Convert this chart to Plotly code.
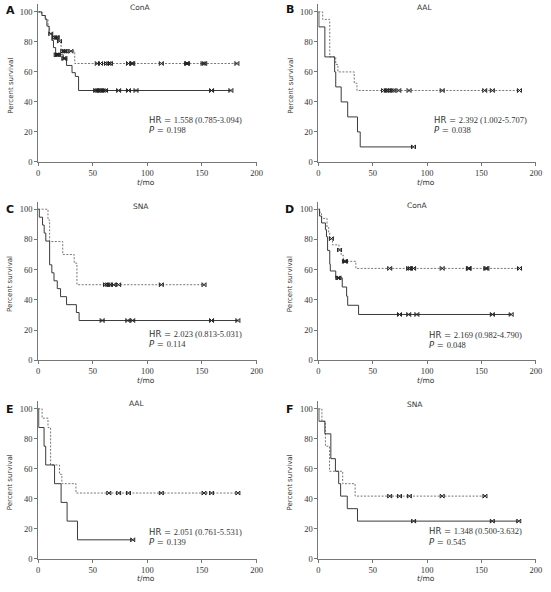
import plotly.graph_objects as go
import numpy as np

W, H = 551, 592

# ---------------- data ----------------
# Panel A: ConA
A_solid_t = [0, 3.5, 6.5, 8, 10, 12.5, 14, 16, 23, 26, 31, 34, 37]
A_solid_s = [100, 97.6, 95.2, 90.5, 85.7, 81, 76.2, 71.4, 69, 64.3, 59.5, 57, 47.6]
A_solid_c = [16.5, 17.5, 18.5, 23.5, 24.5, 52.6, 54.1, 55.6, 57.1, 59.5, 61.7, 73.7, 82.7, 89.6, 158.8, 176.5]
A_dash_t = [0, 3, 6.5, 9, 10.5, 13, 18, 21, 33.5]
A_dash_s = [100, 97.6, 95.1, 90.2, 85.4, 82.9, 80.5, 73.8, 65.6]
A_dash_c = [11.5, 15, 16.5, 17.5, 19.5, 22.5, 24, 25.5, 30, 54.1, 57.1, 62.6, 64.7, 66.2, 82.7, 85.7, 86.6,
            112.8, 135.9, 136.8, 151, 152.5, 182]

# Panel B: AAL
B_solid_t = [0, 0.5, 6, 15, 16, 21, 27, 36, 38.5]
B_solid_s = [100, 90, 70, 60, 50, 40, 30, 20, 10]
B_solid_c = [87.5]
B_dash_t = [0, 4, 10.5, 16, 18, 33, 35.5]
B_dash_s = [100, 95, 70, 65, 60, 52.5, 47.6]
B_dash_c = [60, 62.5, 64.7, 66.8, 68.9, 74, 83.4, 113.9, 153, 160, 184.9]

# Panel C: SNA
C_solid_t = [0, 1, 4, 5.5, 7, 10.5, 12.5, 14.5, 17.5, 20.5, 26, 35, 37.5]
C_solid_s = [100, 94.7, 89.5, 84.2, 78.9, 63.2, 57.9, 52.6, 47.4, 42.1, 36.8, 31.6, 26.3]
C_solid_c = [58.6, 82.1, 86.6, 158.8, 182.9]
C_dash_t = [0, 9, 10.5, 22.5, 33, 35.5]
C_dash_s = [100, 92.9, 78.6, 70, 64.3, 50]
C_dash_c = [61.7, 63.8, 66.2, 69.2, 73.7, 112.8, 151.9]

# Panel D: ConA
D_solid_t = [0, 1, 3, 6.5, 7.5, 8.5, 10.5, 11, 16, 22, 26, 27, 37]
D_solid_s = [100, 95.5, 90.9, 86.4, 81.8, 72.7, 63.6, 59.1, 54.5, 48.5, 42.4, 36.4, 30.3]
D_solid_c = [18, 19, 74.6, 83.1, 90.6, 160, 177.3]
D_dash_t = [0, 1.5, 3, 8, 9.5, 10.5, 13, 19, 21, 23, 34.5]
D_dash_s = [100, 97, 93.9, 87.9, 84.8, 80.5, 76.4, 73, 69.5, 65.5, 60.8]
D_dash_c = [12, 19.5, 24, 25, 65.6, 83, 84.6, 87.6, 113.9, 138, 138.7, 154, 155, 185]

# Panel E: AAL
E_solid_t = [0, 0.5, 5.4, 6.9, 15, 21, 26.5, 36]
E_solid_s = [100, 87.5, 75, 62.5, 50, 37.5, 25, 12.5]
E_solid_c = [86.6]
E_dash_t = [0, 3.6, 9, 11.4, 19.5, 21.7, 34.6]
E_dash_s = [100, 93.75, 87.5, 62.5, 56.25, 50, 43.75]
E_dash_c = [64.7, 73.7, 82.7, 112.8, 151.9, 158.8, 182.9]

# Panel F: SNA
F_solid_t = [0, 0.5, 6, 11.5, 15.7, 18.7, 20.5, 26.6, 36]
F_solid_s = [100, 91.7, 83.3, 66.7, 58.3, 50, 41.7, 33.3, 25]
F_solid_c = [87.6, 160, 184.3]
F_dash_t = [0, 3.3, 6.5, 10.3, 22.4, 33.8]
F_dash_s = [100, 91.7, 75, 58.3, 50, 41.7]
F_dash_c = [65.6, 74.6, 83.7, 113.9, 153.2]

panel_letters = ["A", "B", "C", "D", "E", "F"]
panel_titles = ["ConA", "AAL", "SNA", "ConA", "AAL", "SNA"]
hr_texts = ["1.558 (0.785-3.094)", "2.392 (1.002-5.707)", "2.023 (0.813-5.031)",
            "2.169 (0.982-4.790)", "2.051 (0.761-5.531)", "1.348 (0.500-3.632)"]
p_texts = ["0.198", "0.038", "0.114", "0.048", "0.139", "0.545"]

x_ticks = [0, 50, 100, 150, 200]
y_ticks = [0, 20, 40, 60, 80, 100]

panels = [
    (A_solid_t, A_solid_s, A_solid_c, A_dash_t, A_dash_s, A_dash_c),
    (B_solid_t, B_solid_s, B_solid_c, B_dash_t, B_dash_s, B_dash_c),
    (C_solid_t, C_solid_s, C_solid_c, C_dash_t, C_dash_s, C_dash_c),
    (D_solid_t, D_solid_s, D_solid_c, D_dash_t, D_dash_s, D_dash_c),
    (E_solid_t, E_solid_s, E_solid_c, E_dash_t, E_dash_s, E_dash_c),
    (F_solid_t, F_solid_s, F_solid_c, F_dash_t, F_dash_s, F_dash_c),
]

# ---------------- geometry (screen pixels) ----------------
col_x = [(36.7, 258.3), (321.0, 541.7)]
row_y = [(163.3, 151.3), (363.3, 152.3), (563.3, 151.0)]  # (y of 0, px per 100%)
letter_pos = [(8.2, 10.3), (292, 9.3), (7.8, 211.3), (292, 210.8), (7.8, 413), (292, 413.3)]
title_pos = [(141, 7.5), (429, 8), (141, 208), (421.7, 207.7), (136.7, 407), (419, 408)]
hr_pos = [(146.7, 120.7), (436, 121), (146.7, 336.7), (431.7, 337.7), (146.7, 536.7), (431.7, 536)]


def px(x, y):
    return x / W, 1 - y / H


def step_at(ts, ss, t):
    i = np.searchsorted(np.array(ts), t, side="right") - 1
    return ss[max(i, 0)]


fig = go.Figure()
layout_axes = {}
annotations = []


def ann(text, x, y, size, family="DejaVu Sans", xanchor="center", yanchor="middle", angle=0, color="#333333"):
    ax, ay = px(x, y)
    annotations.append(dict(text=text, x=ax, y=ay, xref="paper", yref="paper", showarrow=False,
                            xanchor=xanchor, yanchor=yanchor, textangle=angle,
                            font=dict(family=family, size=size, color=color)))


for k, (st, ss, sc, dt, ds, dc) in enumerate(panels):
    r, c = divmod(k, 2)
    x0, x1 = col_x[c]
    y0, ppc = row_y[r]
    ytop = max(y0 - 1.05 * ppc, 0.5)
    ymax = (y0 - ytop) / ppc * 100
    xa = "xaxis" if k == 0 else f"xaxis{k+1}"
    ya = "yaxis" if k == 0 else f"yaxis{k+1}"
    xr = "x" if k == 0 else f"x{k+1}"
    yr = "y" if k == 0 else f"y{k+1}"

    for ts, svals, cens, dash, col in [(dt, ds, dc, "2px,1.5px", "#777777"), (st, ss, sc, "solid", "#3a3a3a")]:
        tend = max(cens) if cens else ts[-1]
        xs = list(ts) + [max(tend, ts[-1])]
        ys = list(svals) + [svals[-1]]
        fig.add_trace(go.Scatter(x=xs, y=ys, mode="lines", line=dict(color=col, width=1, dash=dash, shape="hv"),
                                 xaxis=xr, yaxis=yr, showlegend=False, hoverinfo="skip"))
        cy = [step_at(ts, svals, t) for t in cens]
        fig.add_trace(go.Scatter(x=cens, y=cy, mode="markers",
                                 marker=dict(symbol="bowtie-open", size=4, color="#222222",
                                             line=dict(width=1, color="#222222")),
                                 xaxis=xr, yaxis=yr, showlegend=False, hoverinfo="skip"))

    common = dict(showline=True, linecolor="#777777", linewidth=1, ticks="outside", ticklen=3,
                  tickcolor="#777777", tickwidth=1, showgrid=False, zeroline=False,
                  tickfont=dict(family="Liberation Serif", size=8.5, color="#333333"))
    layout_axes[xa] = dict(domain=[x0 / W, x1 / W], range=[0, 200], tickvals=x_ticks, anchor=yr, **common)
    layout_axes[ya] = dict(domain=[1 - y0 / H, min(1.0, 1 - ytop / H)], range=[0, ymax],
                           tickvals=y_ticks, anchor=xr, **common)

    lx, ly = letter_pos[k]
    ann("<b>" + panel_letters[k] + "</b>", lx, ly, 11, color="#111111")
    tx, ty = title_pos[k]
    ann(panel_titles[k], tx, ty, 7.5)
    ann("Percent survival", x0 - 28.5, y0 - 77, 7, angle=-90)
    ann("<i>t</i>/mo", (x0 + x1) / 2 - 1, y0 + 20.5, 7.5)
    hx, hy = hr_pos[k]
    ann('<span style="font-family:DejaVu Sans">HR = </span>' + hr_texts[k], hx, hy, 8.5,
        family="Liberation Serif", xanchor="left")
    ann('<span style="font-family:DejaVu Sans"><i>P</i> = </span>' + p_texts[k], hx, hy + 10.2, 8.5,
        family="Liberation Serif", xanchor="left")

fig.update_layout(width=W, height=H, margin=dict(l=0, r=0, t=0, b=0), paper_bgcolor="white",
                  plot_bgcolor="white", annotations=annotations, hovermode=False, **layout_axes)

fig.write_html("out.html", config={"displayModeBar": False, "staticPlot": True},
               post_script="document.body.style.margin='0';document.body.style.overflow='hidden';")
